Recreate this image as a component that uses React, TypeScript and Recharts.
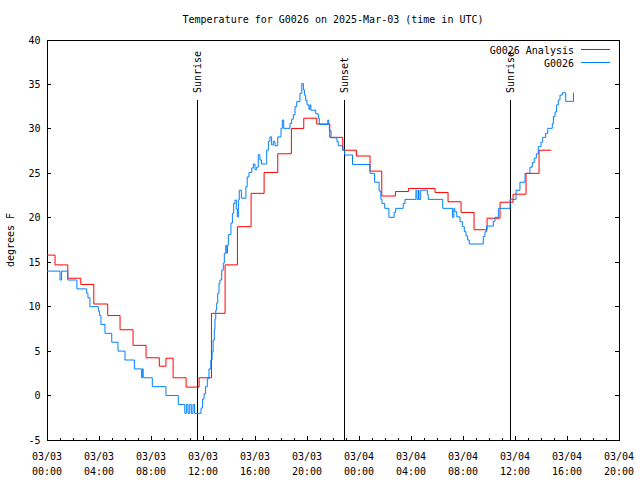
import React from 'react';
import { LineChart, Line, XAxis, YAxis, ReferenceLine, ReferenceArea } from 'recharts';

// hours since 2025-03-03 00:00 UTC -> temperature (degrees F)
const analysisSeries: [number, number][] = [
  [0, 15.8], [0.62, 14.7], [1.6, 13.2], [2.6, 12.5], [3.6, 10.3], [4.67, 9.0],
  [5.62, 7.4], [6.62, 5.65], [7.62, 4.25], [8.64, 3.3], [9.15, 4.2], [9.7, 2.0],
  [10.7, 0.95], [11.7, 2.0], [12.65, 9.25], [13.7, 14.7], [14.65, 19.0], [15.7, 22.75],
  [16.7, 25.1], [17.75, 27.2], [18.8, 30.05], [19.75, 31.2], [20.75, 30.55], [21.75, 29.05],
  [22.75, 27.6], [23.8, 26.95], [24.85, 25.25], [25.75, 22.45], [26.8, 22.95], [27.8, 23.3],
  [29.85, 22.85], [30.85, 21.8], [31.85, 20.6], [32.85, 18.65], [33.85, 19.95], [34.85, 21.75],
  [35.85, 22.65], [36.85, 25.0], [37.85, 27.6], [38.8, 27.6],
];

const obsSeries: [number, number][] = [
  [0, 14], [1.0, 13], [1.12, 14], [1.6, 13], [2.3, 12], [3.05, 11.5], [3.15, 11], [3.3, 10],
  [3.95, 9.5], [4.05, 9], [4.15, 8], [4.46, 7], [4.98, 6], [5.46, 5], [6.0, 4], [6.72, 3],
  [7.28, 2], [7.33, 3], [7.4, 2], [8.1, 1], [9.15, 0], [10.1, -1], [10.6, -2], [10.72, -1],
  [10.85, -2], [10.98, -1], [11.1, -2], [11.23, -1], [11.35, -2], [11.85, -1.4], [11.97, -0.4],
  [12.08, 0.2], [12.2, 1], [12.33, 1.9], [12.46, 3], [12.6, 4], [12.7, 4.9], [12.78, 6.25],
  [12.87, 7.4], [12.92, 8.6], [12.98, 9.6], [13.05, 10.4], [13.13, 11.5], [13.23, 12.6],
  [13.3, 13], [13.44, 14.1], [13.56, 14.9], [13.64, 16], [13.75, 16.9], [13.83, 16],
  [13.88, 16.9], [13.95, 18.1], [14.15, 19.4], [14.26, 20.5], [14.36, 21.6], [14.46, 22],
  [14.56, 21], [14.64, 20.1], [14.72, 22], [14.79, 23.1], [14.95, 22.2], [15.3, 23.5],
  [15.4, 24.6], [15.54, 25.1], [15.75, 25.6], [15.87, 26.05], [16.0, 25.4], [16.13, 25.7],
  [16.25, 27.1], [16.38, 26.5], [16.5, 26.05], [16.9, 27.6], [17.03, 28.6], [17.15, 29.1],
  [17.28, 28.2], [17.41, 28.6], [17.54, 28.1], [17.75, 29.1], [18.0, 30.06], [18.1, 31],
  [18.21, 30.06], [18.69, 30.6], [18.82, 31.1], [18.95, 31.6], [19.08, 32.5], [19.21, 33.06],
  [19.46, 34], [19.6, 35.1], [19.72, 34.4], [19.8, 33.8], [19.9, 33.2], [20.0, 32.7],
  [20.15, 32.2], [20.22, 32.7], [20.3, 32.1], [20.67, 31.7], [20.87, 31.2], [20.95, 30.5],
  [21.6, 31], [21.67, 30.5], [21.72, 29.8], [21.85, 29], [22.3, 28.6], [22.4, 28.1],
  [22.76, 27.6], [22.9, 27.06], [23.5, 26], [24.85, 25], [25.2, 24], [25.55, 23],
  [25.68, 22.1], [25.77, 21.6], [25.98, 21.06], [26.3, 20.05], [26.7, 20.6], [26.82, 21.06],
  [27.4, 21.6], [27.54, 22.07], [28.38, 23.1], [28.46, 22.07], [28.58, 23.1], [28.62, 22.07],
  [28.75, 23.1], [29.26, 22.6], [29.33, 22.07], [30.44, 21.06], [31.2, 20.05], [31.3, 21.06],
  [31.37, 20.7], [31.52, 20.1], [31.77, 19.56], [31.95, 19], [32.1, 18.44], [32.23, 17.95],
  [32.36, 17.5], [32.48, 17.05], [33.56, 17.9], [33.69, 18.44], [33.82, 19.07], [34.33, 19.6],
  [34.46, 20.05], [34.72, 21.06], [35.62, 22.07], [36.08, 23.1], [36.38, 24], [36.77, 25],
  [37.15, 25.7], [37.33, 26.2], [37.48, 26.7], [37.64, 27.2], [37.79, 28], [38.0, 28.5],
  [38.13, 29.05], [38.36, 29.5], [38.52, 30.06], [38.87, 30.6], [38.95, 31.4], [39.08, 31.9],
  [39.2, 32.7], [39.33, 33.25], [39.46, 33.8], [39.64, 34.07], [39.9, 33.1], [40.5, 34.07],
];

const seriesNames = ['G0026 Analysis', 'G0026'];
const seriesColors = ['#ff0000', '#0080ff'];

const sunHours = [11.56, 22.85, 35.64];
const sunLabels = ['Sunrise', 'Sunset', 'Sunrise'];
const sunLineTop = 33.25;

const majorHours = [0, 4, 8, 12, 16, 20, 24, 28, 32, 36, 40, 44];
const tickDates = ['03/03', '03/03', '03/03', '03/03', '03/03', '03/03', '03/04', '03/04', '03/04', '03/04', '03/04', '03/04'];
const tickTimes = ['00:00', '04:00', '08:00', '12:00', '16:00', '20:00', '00:00', '04:00', '08:00', '12:00', '16:00', '20:00'];
const hourTicks = Array.from({ length: 45 }, (_, i) => i);
const topTicks = [1.05, 2.72, 4.38, 6.05, 7.72, 9.38, 11.05, 12.72, 14.38, 16.05, 17.72, 19.38, 21.05,
  22.72, 24.4, 26.08, 27.75, 29.4, 31.08, 32.75, 34.4, 36.08, 37.75, 39.4, 41.08, 42.75];
const yTicks = [-5, 0, 5, 10, 15, 20, 25, 30, 35, 40];

const TITLE = 'Temperature for G0026 on 2025-Mar-03 (time in UTC)';
const LEFT = 47, RIGHT = 619, TOP = 40, BOTTOM = 440;
const MONO = '"DejaVu Sans Mono", "Liberation Mono", monospace';

const analysisData = analysisSeries.map(([t, v]) => ({ t, v }));
const obsData = obsSeries.map(([t, v]) => ({ t, v }));

function BottomTick({ x, payload }: any) {
  const i = majorHours.indexOf(payload.value);
  const len = i >= 0 ? 4 : 2;
  return (
    <g>
      <line x1={x} x2={x} y1={BOTTOM} y2={BOTTOM - len} stroke="#000" shapeRendering="crispEdges" />
      {i >= 0 && (
        <text x={x} y={BOTTOM + 20} textAnchor="middle" fontFamily={MONO} fontSize={10} fill="#000">
          <tspan x={x}>{tickDates[i]}</tspan>
          <tspan x={x} dy={15}>{tickTimes[i]}</tspan>
        </text>
      )}
    </g>
  );
}

function TopTick({ x }: any) {
  return <line x1={x} x2={x} y1={TOP} y2={TOP + 3} stroke="#000" shapeRendering="crispEdges" />;
}

function LeftTick({ y, payload }: any) {
  return (
    <g>
      <line x1={LEFT} x2={LEFT + 4} y1={y} y2={y} stroke="#000" shapeRendering="crispEdges" />
      <line x1={RIGHT} x2={RIGHT - 4} y1={y} y2={y} stroke="#000" shapeRendering="crispEdges" />
      <text x={40.5} y={y} dy={3.5} textAnchor="end" fontFamily={MONO} fontSize={10} fill="#000">
        {payload.value}
      </text>
    </g>
  );
}

function SunLabel(props: any) {
  const vb = props.viewBox || {};
  const x = vb.x1 !== undefined ? vb.x1 : vb.x + (vb.width || 0) / 2;
  const top = vb.y1 !== undefined ? Math.min(vb.y1, vb.y2) : vb.y;
  const ax = x + 3.5;
  const ay = top - 7;
  return (
    <text x={ax} y={ay} transform={`rotate(-90 ${ax} ${ay})`} textAnchor="start"
      fontFamily={MONO} fontSize={10} fill="#000">
      {props.text}
    </text>
  );
}

export default function App() {
  return (
    <div style={{ position: 'absolute', left: 0, top: 0, width: 640, height: 480, background: '#fff' }}>
      <LineChart width={640} height={480} margin={{ top: TOP, right: 640 - RIGHT, bottom: 0, left: 7 }}>
        <XAxis dataKey="t" type="number" domain={[0, 44]} ticks={hourTicks} interval={0}
          allowDataOverflow height={40} axisLine={false} tickLine={false} tick={<BottomTick />} />
        <XAxis xAxisId="top" orientation="top" type="number" domain={[0, 44]} ticks={topTicks}
          interval={0} height={0} axisLine={false} tickLine={false} tick={<TopTick />} />
        <YAxis type="number" domain={[-5, 40]} ticks={yTicks} interval={0} width={40}
          allowDataOverflow axisLine={false} tickLine={false} tick={<LeftTick />} />
        <ReferenceArea x1={0} x2={44} y1={-5} y2={40} fill="none" fillOpacity={0}
          stroke="#000" strokeOpacity={1} shapeRendering="crispEdges" />
        {sunHours.map((h, i) => (
          <ReferenceLine key={i} segment={[{ x: h, y: -5 }, { x: h, y: sunLineTop }]}
            stroke="#000" shapeRendering="crispEdges" label={<SunLabel text={sunLabels[i]} />} />
        ))}
        <Line data={analysisData} dataKey="v" type="stepAfter" stroke={seriesColors[0]}
          strokeWidth={1} dot={false} isAnimationActive={false} name={seriesNames[0]} />
        <Line data={obsData} dataKey="v" type="stepAfter" stroke={seriesColors[1]}
          strokeWidth={1} dot={false} isAnimationActive={false} name={seriesNames[1]} />
      </LineChart>
      <svg width={640} height={480} style={{ position: 'absolute', left: 0, top: 0, pointerEvents: 'none' }}
        fontFamily={MONO} fontSize={10}>
        <text x={333} y={23} textAnchor="middle" fill="#000">{TITLE}</text>
        {seriesNames.map((name, i) => (
          <g key={name}>
            <text x={574} y={54 + i * 13} textAnchor="end" fill="#000">{name}</text>
            <line x1={581} x2={610} y1={49.5 + i * 13} y2={49.5 + i * 13} stroke={seriesColors[i]} />
          </g>
        ))}
        <text x={14} y={240} transform="rotate(-90 14 240)" textAnchor="middle" fill="#000">degrees F</text>
      </svg>
    </div>
  );
}
